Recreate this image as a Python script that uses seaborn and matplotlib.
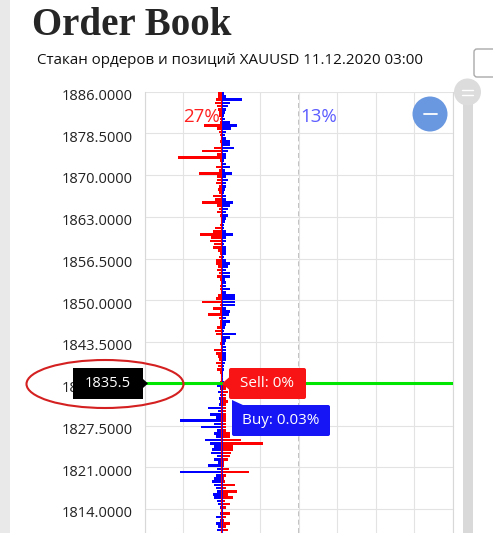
import numpy as np
import pandas as pd
import matplotlib.pyplot as plt
import matplotlib.transforms as mtransforms
from matplotlib.patches import Ellipse, FancyBboxPatch, Circle, Polygon, Rectangle
import seaborn as sns

# order book rows, top (high price) to bottom; values in % units of the grid
sell = [0.09, 0.1, 0.16, 0.18, 0.12, 0.1, 0.08, 0.08, 0.06, 0.05,
        0.46, 0.12, 0.08, 0.06, 0.03, 0.04, 0.03, 0.2, 0.52, 0.12,
        1.13, 0.05, 0.03, 0.16, 0.08, 0.6, 0.12, 0.12, 0.15, 0.08,
        0.1, 0.08, 0.22, 0.18, 0.52, 0.12, 0.08, 0.12, 0.05, 0.03,
        0.02, 0.05, 0.18, 0.22, 0.58, 0.28, 0.3, 0.2, 0.22, 0.1,
        0.05, 0.08, 0.15, 0.15, 0.1, 0.12, 0.08, 0.12, 0.05, 0.03,
        0.05, 0.04, 0.02, 0.1, 0.15, 0.52, 0.05, 0.22, 0.06, 0.35,
        0.08, 0.05, 0.05, 0.12, 0.18, 0.15, 0.02, 0.03, 0.05, 0.02,
        0.2, 0.15, 0.1, 0.08, 0.15, 0.1, 0.12, 0.05, 0.02, 0.01,
        0.05, 0.1, 0.12, 0.15, 0.12, 0.1, 0.15, 0.12, 0.1, 0.1,
        0.12, 0.1, 0.12, 0.1, 0.12, 0.12, 0.2, 0.22, 0.5, 1.07,
        0.28, 0.3, 0.25, 0.2, 0.15, 0.05, 0.05, 0.18, 0.7, 0.1,
        0.05, 0.08, 0.35, 0.1, 0.4, 0.15, 0.3, 0.08, 0.22, 0.1,
        0.03, 0.2, 0.1, 0.05, 0.22, 0.1, 0.15]
buy = [0.05, 0.1, 0.52, 0.2, 0.15, 0.1, 0.08, 0.06, 0.08, 0.2,
       0.4, 0.25, 0.12, 0.08, 0.1, 0.2, 0.2, 0.32, 0.15, 0.1,
       0.1, 0.05, 0.1, 0.2, 0.08, 0.27, 0.1, 0.15, 0.1, 0.12,
       0.08, 0.05, 0.12, 0.1, 0.28, 0.2, 0.15, 0.1, 0.15, 0.1,
       0.08, 0.06, 0.06, 0.1, 0.28, 0.1, 0.12, 0.05, 0.1, 0.12,
       0.1, 0.05, 0.1, 0.2, 0.15, 0.1, 0.2, 0.2, 0.08, 0.1,
       0.12, 0.2, 0.12, 0.33, 0.33, 0.33, 0.33, 0.1, 0.2, 0.18,
       0.12, 0.22, 0.1, 0.08, 0.05, 0.38, 0.2, 0.1, 0.08, 0.1,
       0.12, 0.12, 0.1, 0.12, 0.08, 0.05, 0.05, 0.03, 0.02, 0.02,
       0.05, 0.12, 0.05, 0.1, 0.05, 0.08, 0.05, 0.08, 0.35, 0.1,
       0.3, 0.15, 1.1, 0.2, 0.55, 0.12, 0.2, 0.15, 0.45, 0.3,
       0.2, 0.25, 0.28, 0.12, 0.2, 0.1, 0.35, 0.12, 1.08, 0.15,
       0.2, 0.25, 0.2, 0.15, 0.12, 0.22, 0.2, 0.12, 0.1, 0.05,
       0.02, 0.05, 0.15, 0.05, 0.15, 0.1, 0.12]
rows = np.arange(len(sell))
price_row = 90.25   # current price 1835.5 sits here

tick_rows = [-0.5, 12.5, 25.5, 38.5, 51.5, 64.5, 77.5, 90.5, 103.5, 116.5, 129.5]
tick_labels = ["1886.0000", "1878.5000", "1870.0000", "1863.0000", "1856.5000",
               "1850.0000", "1843.5000", "1835.5000", "1827.5000", "1821.0000",
               "1814.0000"]

sns.set_style('whitegrid')
plt.rcParams['font.family'] = ['Open Sans', 'DejaVu Sans']

fig = plt.figure(figsize=(4.93, 5.33), dpi=100)
ax = fig.add_axes([145/493, 0, 307.5/493, 441.3/533])

df = pd.DataFrame({'row': rows, 'sell': sell, 'buy': buy})
above = df.row < price_row
df['sell_x'] = np.where(above, -df.sell, df.sell)
df['buy_x'] = np.where(above, df.buy, -df.buy)

sns.barplot(data=df, x='sell_x', y='row', orient='h', native_scale=True, color='#ff0000',
            saturation=1, width=0.82, linewidth=0, errorbar=None, ax=ax)
sns.barplot(data=df, x='buy_x', y='row', orient='h', native_scale=True, color='#0000ff',
            saturation=1, width=0.82, linewidth=0, errorbar=None, ax=ax)

ax.set_xlim(-2, 6)
ax.set_ylim(136.98, -0.5)
ax.set_xticks(range(-2, 7))
ax.set_xticklabels([])
ax.set_yticks(tick_rows)
ax.set_yticklabels(tick_labels, fontsize=10.5, color='#222222')
ax.tick_params(axis='both', length=0)
ax.tick_params(axis='y', pad=9)
for lab in ax.get_yticklabels():
    lab.set_transform(lab.get_transform() + mtransforms.ScaledTranslation(0, -2/72, fig.dpi_scale_trans))
ax.set_xlabel('')
ax.set_ylabel('')
ax.grid(True, color='#e3e3e3', lw=0.8)
ax.set_axisbelow(True)
for s in ['top', 'bottom']:
    ax.spines[s].set_visible(False)
for s in ['left', 'right']:
    ax.spines[s].set_color('#d8d8d8')
    ax.spines[s].set_linewidth(0.8)

ax.axvline(2, color='#b8b8b8', lw=1.2, ls=(0, (3, 2)), zorder=0.5)
ax.axvline(-0.015, color='#ff0000', lw=0.8, zorder=2.5)
ax.axvline(0.015, color='#0000ff', lw=0.6, zorder=2.5)
ax.axhline(price_row, color='#00e600', lw=2.2, zorder=3)
ax.text(-0.06, 7.3, '27%', color='#ff1f1f', fontsize=13.5, ha='right', va='center')
ax.text(2.05, 7.3, '13%', color='#5c5cff', fontsize=13.5, ha='left', va='center')

# overlay in pixel coordinates for the widget decorations
ov = fig.add_axes([0, 0, 1, 1], zorder=5)
ov.set_xlim(0, 493)
ov.set_ylim(533, 0)
ov.axis('off')
ov.patch.set_alpha(0)

ov.add_patch(Rectangle((0, 0), 10, 533, color='#e9e9e9', lw=0))
ov.text(32, 35, 'Order Book', family='Liberation Serif', weight='bold', fontsize=28, va='baseline')
ov.text(37, 60.5, 'Стакан ордеров и позиций XAUUSD 11.12.2020 03:00', fontsize=10.9,
        va='center', color='#111111')

# slider and controls on the right
ov.add_patch(FancyBboxPatch((474, 49), 30, 28, boxstyle='round,pad=0,rounding_size=3',
                            fc='white', ec='#aaaaaa', lw=1))
ov.add_patch(Rectangle((463, 95), 10, 440, color='#d9d9d9', lw=0))
ov.add_patch(Circle((467.5, 92), 13.5, color='#dcdcdc', lw=0))
ov.plot([462, 473], [89.5, 89.5], color='white', lw=1)
ov.plot([462, 473], [94.5, 94.5], color='white', lw=1)
ov.add_patch(Circle((430, 114), 17.5, color='#6a98e0', lw=0))
ov.plot([424, 437], [114, 114], color='white', lw=1.3)

# current price tooltip
ov.add_patch(Rectangle((73, 368), 70, 31, color='black', lw=0))
ov.add_patch(Polygon([(143, 379), (148, 383.5), (143, 388)], color='black', lw=0))
ov.text(108, 383.5, '1835.5', color='white', fontsize=10.5, ha='center', va='center')
ov.add_patch(Ellipse((105, 384), 157, 48, fill=False, ec='#d42020', lw=1.5))

ov.add_patch(FancyBboxPatch((229, 368), 77, 31, boxstyle='round,pad=0,rounding_size=2',
                            fc='#f81414', ec='none'))
ov.add_patch(Polygon([(229.5, 377), (222, 383.5), (229.5, 390)], color='#f81414', lw=0))
ov.text(267.5, 383.5, 'Sell: 0%', color='white', fontsize=11, ha='center', va='center')

ov.add_patch(FancyBboxPatch((232, 405), 98, 31, boxstyle='round,pad=0,rounding_size=2',
                            fc='#1515f5', ec='none'))
ov.add_patch(Polygon([(232, 400), (232, 412), (244, 405.5)], color='#1515f5', lw=0))
ov.text(281, 420.5, 'Buy: 0.03%', color='white', fontsize=11, ha='center', va='center')

fig.savefig('out.png', dpi=100)
